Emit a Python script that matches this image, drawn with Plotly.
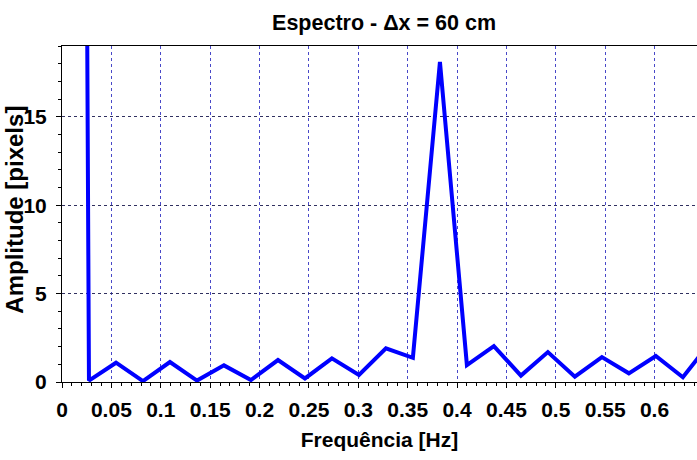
import plotly.graph_objects as go

# Frequency bins (Hz) and spectrum amplitude (pixels)
freq = [0.0, 0.0273, 0.0547, 0.0820, 0.1093, 0.1367, 0.1640, 0.1913, 0.2187,
        0.2460, 0.2733, 0.3007, 0.3280, 0.3553, 0.3827, 0.4100, 0.4373,
        0.4647, 0.4920, 0.5193, 0.5467, 0.5740, 0.6013, 0.6287, 0.6560]
amp = [300.0, 0.08, 1.09, 0.05, 1.13, 0.08, 0.94, 0.11, 1.24,
       0.20, 1.34, 0.40, 1.90, 1.37, 18.1, 0.96, 2.03,
       0.36, 1.69, 0.30, 1.41, 0.49, 1.47, 0.27, 2.2]

x_ticks = [0, 0.05, 0.1, 0.15, 0.2, 0.25, 0.3, 0.35, 0.4, 0.45, 0.5, 0.55, 0.6]
x_tick_labels = ["0", "0.05", "0.1", "0.15", "0.2", "0.25", "0.3", "0.35", "0.4",
                 "0.45", "0.5", "0.55", "0.6"]
y_ticks = [0, 5, 10, 15]

FONT = "Liberation Sans, Arial, sans-serif"
TICKFONT = dict(family=FONT, size=21, color="black", weight="bold")
TITLEFONT = dict(family=FONT, size=21, color="black", weight="bold")

fig = go.Figure()
fig.add_trace(go.Scatter(x=freq, y=amp, mode="lines",
                         line=dict(color="#0000ff", width=4),
                         showlegend=False, cliponaxis=True))

fig.update_layout(
    width=697, height=460,
    margin=dict(l=62, r=0, t=46, b=78),
    paper_bgcolor="white", plot_bgcolor="white",
    font=dict(family=FONT, size=21, color="black"),
    title=dict(text="Espectro - Δx = 60 cm", x=0.551, xanchor="center",
               y=0.952, yanchor="middle", font=dict(family=FONT, size=21.5, color="black", weight="bold")),
    annotations=[dict(text="Amplitude [pixels]", xref="paper", yref="paper",
                      x=-0.0740, y=0.513, xanchor="center", yanchor="middle",
                      textangle=-90, showarrow=False,
                      font=dict(family=FONT, size=24, color="black", weight="bold"))],
)
fig.update_xaxes(
    range=[0, 0.643], tickvals=x_ticks, ticktext=x_tick_labels, tickfont=TICKFONT,
    showline=True, linecolor="black", linewidth=1, mirror=True,
    ticks="outside", ticklen=5, tickcolor="black", ticklabelstandoff=4,
    showgrid=True, gridcolor="#4848c8", griddash="3px,3px", gridwidth=1,
    minor=dict(dtick=0.01, ticks="outside", ticklen=3, tickcolor="black", showgrid=False),
    zeroline=False,
    title=dict(text="Frequência [Hz]", standoff=12, font=TITLEFONT),
)
fig.update_yaxes(
    range=[0, 19], tickvals=y_ticks, tickfont=TICKFONT,
    showline=True, linecolor="black", linewidth=1,
    ticks="outside", ticklen=5, tickcolor="black", ticklabelstandoff=5,
    showgrid=True, gridcolor="#303060", griddash="3px,3px", gridwidth=1,
    minor=dict(dtick=1, ticks="outside", ticklen=3, tickcolor="black", showgrid=False),
    zeroline=False,
)

fig.write_html("out.html")
